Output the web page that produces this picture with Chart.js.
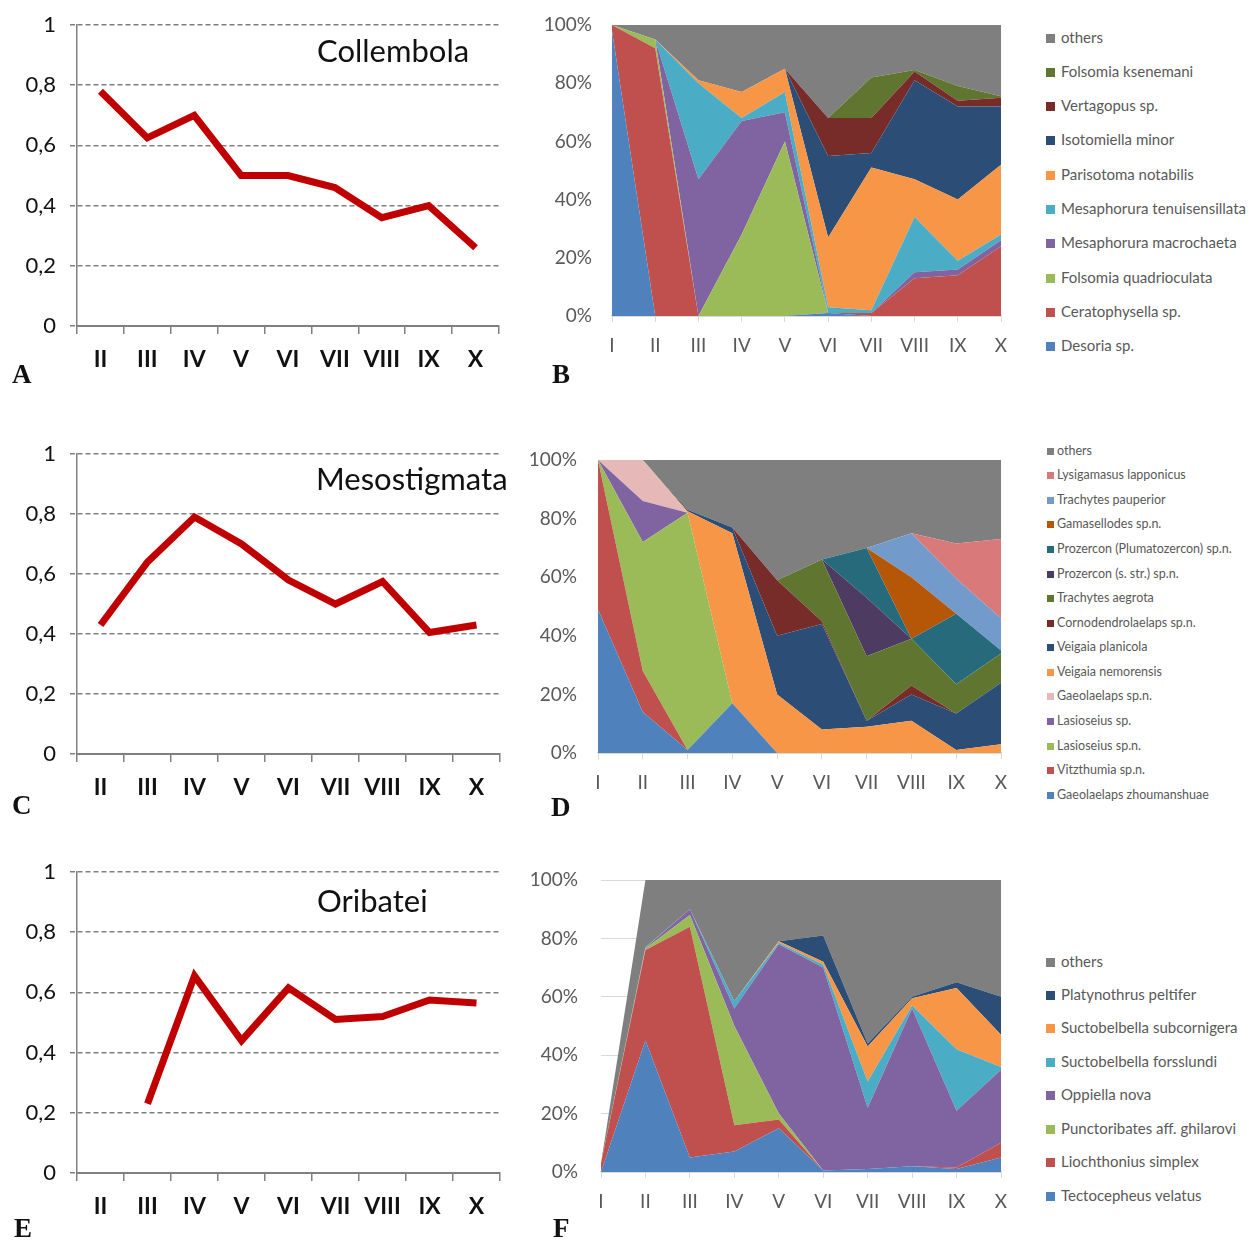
<!DOCTYPE html>
<html>
<head>
<meta charset="utf-8">
<script src="https://cdn.jsdelivr.net/npm/chart.js@4.4.1/dist/chart.umd.min.js"></script>
<style>
  body { margin: 0; background: #fff; }
  #page { position: relative; width: 1249px; height: 1241px; overflow: hidden; font-family: Lato, "Open Sans", sans-serif; }
  canvas { position: absolute; display: block; }
  .group-title { position: absolute; font-size: 31px; line-height: 1; color: #111; white-space: nowrap; }
  .letter { position: absolute; font-family: "Liberation Serif", serif; font-weight: bold; font-size: 27px; line-height: 1; color: #111; }
  .legend { position: absolute; color: #595959; }
  .legend div { position: absolute; left: 0; white-space: nowrap; }
  .legend span { display: inline-block; }
</style>
</head>
<body>
<div id="page">
  <canvas id="chartA" width="520" height="390" style="left:0px;top:0px"></canvas>
  <canvas id="chartC" width="520" height="390" style="left:0px;top:430px"></canvas>
  <canvas id="chartE" width="520" height="390" style="left:0px;top:848px"></canvas>
  <canvas id="chartB" width="480" height="370" style="left:530px;top:0px"></canvas>
  <canvas id="chartD" width="480" height="380" style="left:530px;top:430px"></canvas>
  <canvas id="chartF" width="480" height="380" style="left:530px;top:850px"></canvas>

  <div class="group-title" style="left:317px;top:35px">Collembola</div>
  <div class="group-title" style="left:316px;top:463px">Mesostigmata</div>
  <div class="group-title" style="left:317px;top:885px">Oribatei</div>

  <div class="letter" style="left:12px;top:361px">A</div>
  <div class="letter" style="left:552px;top:361px">B</div>
  <div class="letter" style="left:12px;top:792px">C</div>
  <div class="letter" style="left:551px;top:794px">D</div>
  <div class="letter" style="left:14px;top:1215px">E</div>
  <div class="letter" style="left:553px;top:1215px">F</div>

  <div class="legend" id="legendB"></div>
  <div class="legend" id="legendD"></div>
  <div class="legend" id="legendF"></div>
</div>

<script>
// --- 왼쪽 선 그래프 데이터 ---
const linePeriods = ['II', 'III', 'IV', 'V', 'VI', 'VII', 'VIII', 'IX', 'X'];
const lineTickLabels = ['0', '0,2', '0,4', '0,6', '0,8', '1'];
const collembolaLine = [0.78, 0.625, 0.70, 0.50, 0.50, 0.46, 0.36, 0.40, 0.26];
const mesostigmataLine = [0.43, 0.64, 0.79, 0.70, 0.58, 0.50, 0.575, 0.405, 0.43];
const oribateiLine = [null, 0.23, 0.655, 0.44, 0.615, 0.51, 0.52, 0.575, 0.565];

// --- 오른쪽 100% 누적 영역 그래프 데이터 ---
const areaPeriods = ['I', 'II', 'III', 'IV', 'V', 'VI', 'VII', 'VIII', 'IX', 'X'];
const areaTickLabels = ['0%', '20%', '40%', '60%', '80%', '100%'];

// B: Collembola (아래 -> 위 순서)
const collembolaSpecies = ['Desoria sp.', 'Ceratophysella sp.', 'Folsomia quadrioculata', 'Mesaphorura macrochaeta',
  'Mesaphorura tenuisensillata', 'Parisotoma notabilis', 'Isotomiella minor', 'Vertagopus sp.', 'Folsomia ksenemani', 'others'];
const collembolaColors = ['#4F81BD', '#C0504D', '#9BBB59', '#8064A2', '#4BACC6', '#F79646', '#2C4D75', '#772C2A', '#5F7530', '#7F7F7F'];
const desoria        = [98, 0, 0, 0, 0, 1, 0, 0, 0, 0];
const ceratophysella = [2, 92, 0, 0, 0, 0, 1, 13, 14, 24];
const folsomiaQuad   = [0, 3, 0, 28, 60, 0, 0, 0, 0, 0];
const mesaphMacro    = [0, 0, 47, 39, 10, 0, 0, 2, 2, 2];
const mesaphTenui    = [0, 0, 33, 1, 7, 2, 1, 19, 3, 2];
const parisotoma     = [0, 0, 1, 9, 8, 24, 49, 13, 21, 24];
const isotomiella    = [0, 0, 0, 0, 0, 28, 5, 34, 32, 20];
const vertagopus     = [0, 0, 0, 0, 0, 13, 12, 3, 2, 3];
const folsomiaKsen   = [0, 0, 0, 0, 0, 0, 14, 0.5, 5, 0.5];
const collembolaOthers = [0, 5, 19, 23, 15, 32, 18, 15.5, 21, 24.5];

// D: Mesostigmata
const mesoSpecies = ['Gaeolaelaps zhoumanshuae', 'Vitzthumia sp.n.', 'Lasioseius sp.n.', 'Lasioseius sp.', 'Gaeolaelaps sp.n.',
  'Veigaia nemorensis', 'Veigaia planicola', 'Cornodendrolaelaps sp.n.', 'Trachytes aegrota', 'Prozercon (s. str.) sp.n.',
  'Prozercon (Plumatozercon) sp.n.', 'Gamasellodes sp.n.', 'Trachytes pauperior', 'Lysigamasus lapponicus', 'others'];
const mesoColors = ['#4F81BD', '#C0504D', '#9BBB59', '#8064A2', '#E6B9B8', '#F79646', '#2C4D75', '#772C2A', '#5F7530',
  '#4D3B62', '#276A7C', '#B65708', '#729ACA', '#D9797A', '#7F7F7F'];
const gaeoZhou     = [49, 14, 1, 17, 0, 0, 0, 0, 0, 0];
const vitzthumia   = [51, 14, 0, 0, 0, 0, 0, 0, 0, 0];
const lasioSpn     = [0, 44, 81, 0, 0, 0, 0, 0, 0, 0];
const lasioSp      = [0, 14, 0, 0, 0, 0, 0, 0, 0, 0];
const gaeoSpn      = [0, 14, 0, 0, 0, 0, 0, 0, 0, 0];
const veigaiaNemo  = [0, 0, 0.5, 58, 20, 8, 9, 11, 1, 3];
const veigaiaPlan  = [0, 0, 0.5, 2, 20, 36, 2, 9, 12.5, 21];
const cornodendro  = [0, 0, 0, 0, 19, 1, 0, 3, 0, 0];
const trachAegrota = [0, 0, 0, 0, 0, 21, 22, 16, 10, 10];
const prozStr      = [0, 0, 0, 0, 0, 0, 20, 0, 0, 0];
const prozPluma    = [0, 0, 0, 0, 0, 0, 17, 0, 24, 1];
const gamasellodes = [0, 0, 0, 0, 0, 0, 0, 21, 0, 0];
const trachPauper  = [0, 0, 0, 0, 0, 0, 0, 15, 12, 11];
const lysigamasus  = [0, 0, 0, 0, 0, 0, 0, 0, 12, 27];
const mesoOthers   = [0, 0, 17, 23, 41, 34, 30, 25, 28.5, 27];

// F: Oribatei
const oribSpecies = ['Tectocepheus velatus', 'Liochthonius simplex', 'Punctoribates aff. ghilarovi', 'Oppiella nova',
  'Suctobelbella forsslundi', 'Suctobelbella subcornigera', 'Platynothrus peltifer', 'others'];
const oribColors = ['#4F81BD', '#C0504D', '#9BBB59', '#8064A2', '#4BACC6', '#F79646', '#2C4D75', '#7F7F7F'];
const tectocepheus  = [0, 45, 5, 7, 15, 0.5, 1, 2, 1, 5];
const liochthonius  = [3, 31, 79, 9, 3, 0, 0, 0, 0.5, 5];
const punctoribates = [0, 0.5, 4, 34, 2, 0, 0, 0, 0, 0];
const oppiella      = [0, 0.3, 2, 6, 58, 69.5, 21, 54, 19.5, 25];
const suctForss     = [0, 0.2, 0, 2.5, 0.5, 1, 9, 1, 21, 1];
const suctSubcorn   = [0, 0, 0, 0, 0.5, 1, 12, 2.5, 21, 11];
const platynothrus  = [0, 0, 0, 0, 0, 9, 1, 0.5, 2, 13];
const oribOthers    = [0, 23, 10, 41.5, 21, 19, 56, 40, 35, 40];

const fontFamily = 'Lato, "Open Sans", sans-serif';
const axisGray = '#808080';

// 축이 라벨 여백을 추가로 잡지 않도록 (그림 영역 위치는 layout.padding 으로만 결정)
function noScalePadding(s) {
  s.paddingTop = 0;
  s.paddingBottom = 0;
  s.paddingLeft = 0;
  s.paddingRight = 0;
}

// 선 그래프 그리기 (pad: 캔버스 안에서 그림 영역 위치)
function makeLineChart(id, values, pad) {
  const ctx = document.getElementById(id).getContext('2d');
  return new Chart(ctx, {
    type: 'line',
    data: {
      labels: linePeriods,
      datasets: [{
        data: values,
        borderColor: '#C00000',
        borderWidth: 7,
        pointRadius: 0,
        fill: false,
        tension: 0
      }]
    },
    options: {
      responsive: false,
      animation: false,
      layout: { padding: { top: pad.top, right: pad.right, bottom: 0, left: 0 } },
      plugins: { legend: { display: false }, tooltip: { enabled: false } },
      scales: {
        x: {
          offset: true,
          grid: { offset: true, drawOnChartArea: false, tickLength: 8, color: axisGray, lineWidth: 1.5 },
          border: { color: axisGray, width: 2 },
          ticks: { color: '#111', padding: 12, autoSkip: false, maxRotation: 0,
                   font: { family: fontFamily, size: 23, weight: 'bold' } },
          afterFit: s => { s.height = pad.xHeight; noScalePadding(s); }
        },
        y: {
          min: 0,
          max: 1,
          grid: { color: axisGray, lineWidth: 1.5, tickLength: 7, tickBorderDash: [5, 3] },
          border: { color: axisGray, width: 1.5, dash: c => (c.tick && c.tick.value === 0) ? [] : [5, 3] },
          ticks: { stepSize: 0.2, padding: 14, color: '#111',
                   font: { family: fontFamily, size: 22 },
                   callback: (v, i) => lineTickLabels[i] },
          afterFit: s => { s.width = 77; noScalePadding(s); }
        }
      }
    }
  });
}

// 누적 영역 그래프 그리기
function makeAreaChart(id, species, colors, series, pad) {
  const datasets = series.map((data, i) => ({
    label: species[i],
    data: data,
    backgroundColor: colors[i],
    borderColor: colors[i],
    borderWidth: 0,
    pointRadius: 0,
    tension: 0,
    fill: i === 0 ? 'origin' : '-1'
  }));
  const ctx = document.getElementById(id).getContext('2d');
  return new Chart(ctx, {
    type: 'line',
    data: { labels: areaPeriods, datasets: datasets },
    options: {
      responsive: false,
      animation: false,
      layout: { padding: { top: pad.top, right: pad.right, bottom: 0, left: 0 } },
      plugins: { legend: { display: false }, tooltip: { enabled: false } },
      scales: {
        x: {
          grid: { drawOnChartArea: false, tickLength: 6, color: '#D9D9D9' },
          border: { color: '#D9D9D9', width: 1.5 },
          ticks: { color: '#595959', padding: 12, autoSkip: false, maxRotation: 0,
                   font: { family: fontFamily, size: 19 } },
          afterFit: s => { s.height = pad.xHeight; noScalePadding(s); }
        },
        y: {
          stacked: true,
          min: 0,
          max: 100,
          grid: { color: '#D9D9D9', drawTicks: false },
          border: { display: false },
          ticks: { stepSize: 20, padding: pad.labelGap, color: '#595959',
                   font: { family: fontFamily, size: 19 },
                   callback: (v, i) => areaTickLabels[i] },
          afterFit: s => { s.width = pad.yWidth; noScalePadding(s); }
        }
      }
    }
  });
}

// 범례 (others 가 맨 위)
function makeLegend(id, species, colors, opt) {
  const box = document.getElementById(id);
  box.style.left = opt.left + 'px';
  box.style.top = '0px';
  let row = 0;
  for (let i = species.length - 1; i >= 0; i--) {
    const item = document.createElement('div');
    const center = opt.firstY + row * opt.step;
    item.style.top = (center - opt.font / 2) + 'px';
    item.style.fontSize = opt.font + 'px';
    item.style.lineHeight = opt.font + 'px';
    item.innerHTML = `<span style="width:${opt.marker}px;height:${opt.marker}px;margin-right:${opt.gap}px;background:${colors[i]};"></span>${species[i]}`;
    box.appendChild(item);
    row++;
  }
}

makeLineChart('chartA', collembolaLine, { top: 25, right: 21, xHeight: 64 });
makeLineChart('chartC', mesostigmataLine, { top: 24, right: 20, xHeight: 66 });
makeLineChart('chartE', oribateiLine, { top: 24, right: 20, xHeight: 65 });

makeAreaChart('chartB', collembolaSpecies, collembolaColors,
  [desoria, ceratophysella, folsomiaQuad, mesaphMacro, mesaphTenui, parisotoma, isotomiella, vertagopus, folsomiaKsen, collembolaOthers],
  { top: 25, right: 9, xHeight: 54, yWidth: 82, labelGap: 20 });
makeAreaChart('chartD', mesoSpecies, mesoColors,
  [gaeoZhou, vitzthumia, lasioSpn, lasioSp, gaeoSpn, veigaiaNemo, veigaiaPlan, cornodendro, trachAegrota, prozStr, prozPluma,
   gamasellodes, trachPauper, lysigamasus, mesoOthers],
  { top: 30, right: 9, xHeight: 57, yWidth: 68, labelGap: 21 });
makeAreaChart('chartF', oribSpecies, oribColors,
  [tectocepheus, liochthonius, punctoribates, oppiella, suctForss, suctSubcorn, platynothrus, oribOthers],
  { top: 30, right: 9, xHeight: 58, yWidth: 71, labelGap: 23 });

makeLegend('legendB', collembolaSpecies, collembolaColors, { left: 1046, firstY: 37, step: 34.33, font: 15, marker: 9, gap: 6 });
makeLegend('legendD', mesoSpecies, mesoColors, { left: 1047, firstY: 451, step: 24.57, font: 12.5, marker: 7, gap: 3 });
makeLegend('legendF', oribSpecies, oribColors, { left: 1046, firstY: 961, step: 33.43, font: 15, marker: 9, gap: 6 });
</script>
</body>
</html>
